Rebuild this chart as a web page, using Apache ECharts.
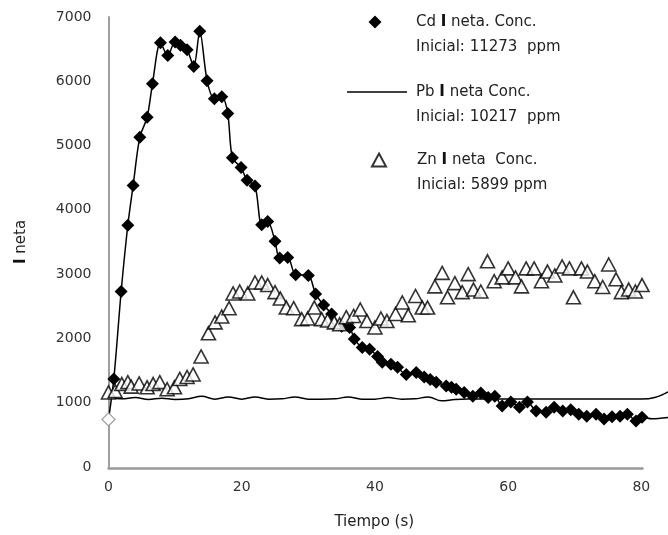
<!doctype html>
<html lang="es">
<head>
    <meta charset="UTF-8">
    <title>I neta vs Tiempo</title>
    <style>
        *{
            padding:0;
            margin:0;
        }
        body{
            background:#fff;
        }
        #main{
            width:668px;
            height:535px;
        }
    </style>
</head>
<body>
   <div id="main"></div>
<script src="https://cdn.jsdelivr.net/npm/echarts@6/dist/echarts.min.js"></script>
<script>
    // Cd (diamantes), tiempo en s y I neta
    var cdTime=[0,0.8,1.9,2.9,3.7,4.7,5.8,6.6,7.8,8.9,10.0,10.8,11.8,12.8,13.7,14.8,15.9,17.0,17.9,
        18.6,19.9,20.8,22.0,23.0,23.9,25.0,25.7,26.9,28.1,30.0,31.1,32.3,33.5,35.0,36.2,36.9,38.1,39.2,
        40.4,41.1,42.4,43.4,44.7,46.2,47.4,48.3,49.2,50.7,51.5,52.2,53.4,54.7,55.9,57.0,58.0,59.1,60.4,
        61.7,62.9,64.2,65.7,66.9,68.2,69.4,70.6,71.8,73.2,74.4,75.6,76.8,77.9,79.2,80.1];
    var cdValue=[740,1370,2730,3760,4380,5130,5440,5960,6600,6400,6610,6560,6490,6230,6780,6010,5730,5760,5500,
        4810,4660,4460,4370,3770,3820,3510,3250,3260,2990,2980,2690,2520,2380,2190,2170,1990,1860,1830,
        1720,1630,1600,1550,1440,1470,1400,1360,1320,1260,1240,1210,1160,1100,1150,1080,1100,950,1010,
        930,1010,870,850,930,870,890,820,790,820,745,780,790,820,715,775];
    // la curva de Cd sigue sin marcadores
    var cdTailTime=[81.6,84];
    var cdTailValue=[750,770];

    // Pb (solo línea)
    var pbTime=[0,2,4,6,8,10,12,14,16,18,20,22,24,26,28,30,32,34,36,38,40,42,44,46,48,50,52,54,56,58,
        60,62,64,66,68,70,72,74,76,78,80,82,84];
    var pbValue=[1100,1060,1080,1050,1070,1050,1060,1100,1055,1090,1055,1090,1055,1060,1090,1055,1055,1060,1090,1055,
        1055,1080,1055,1060,1090,1030,1050,1056,1056,1056,1056,1056,1056,1056,1056,1056,1056,1056,1056,1056,
        1056,1080,1170];

    // Zn (triángulos)
    var znTime=[0,1.0,2.0,2.9,3.4,4.6,5.8,6.7,7.7,8.8,9.9,10.7,11.8,12.7,13.9,15.0,16.0,17.0,18.1,18.7,19.7,
        20.9,22.0,23.0,23.9,25.0,25.8,26.7,27.8,29.0,29.9,30.9,32.0,32.9,33.9,34.7,35.7,36.8,37.8,38.8,40.0,
        40.9,41.8,43.1,44.1,45.0,46.1,47.1,47.9,49.0,50.1,50.9,52.0,53.1,54.0,54.8,55.9,56.9,57.9,59.1,60.0,
        61.1,62.0,62.7,63.9,65.0,65.9,67.0,68.1,69.2,69.8,71.0,71.9,73.0,74.2,75.1,76.2,77.0,78.1,79.1,80.1];
    var znValue=[1160,1180,1290,1320,1250,1300,1240,1290,1320,1210,1240,1370,1400,1440,1720,2080,2250,2340,2470,2700,2730,
        2700,2870,2870,2830,2720,2620,2480,2470,2300,2310,2480,2300,2280,2250,2220,2330,2350,2450,2270,2170,
        2310,2270,2380,2560,2360,2660,2480,2480,2810,3020,2640,2860,2720,3000,2760,2730,3200,2890,2950,3090,
        2950,2810,3090,3090,2890,3040,2980,3120,3090,2640,3090,3040,2890,2800,3150,2920,2720,2760,2730,2830];

    var legendLabels={
        Cd:['Cd {b|I} neta. Conc.','Inicial: 11273  ppm'],
        Pb:['Pb {b|I} neta Conc.','Inicial: 10217  ppm'],
        Zn:['Zn {b|I} neta  Conc.','Inicial: 5899 ppm']
    };
    var xTicks=[0,84,20];   // min, max (la curva sigue hasta 84), intervalo
    var xAxisEnd=80;        // la línea del eje llega a 80
    var yTicks=[0,7000,1000];

    var font='DejaVu Sans';
    var axisGray='#9e9e9e';

    var cdData=cdTime.map(function(t,i){
        if(i===0){
            return {value:[t,cdValue[i]],itemStyle:{color:'#fff',borderColor:'#9a9a9a',borderWidth:1.2}};
        }
        return [t,cdValue[i]];
    });
    cdTailTime.forEach(function(t,i){
        cdData.push({value:[t,cdTailValue[i]],symbol:'none'});
    });
    var pbData=pbTime.map(function(t,i){return [t,pbValue[i]];});
    var znData=znTime.map(function(t,i){return [t,znValue[i]];});

    // una leyenda por serie: icono a la altura de la primera línea de texto
    function makeLegend(name,icon,iconX,iconY,w,h){
        return {
            data:[{name:name,icon:icon}],
            left:iconX-w/2,
            top:iconY-37.5,
            padding:0,
            itemWidth:w,
            itemHeight:h,
            selectedMode:false,
            formatter:function(n){return legendLabels[n].join('\n');},
            textStyle:{
                fontFamily:font,
                fontSize:15,
                color:'#222',
                lineHeight:25,
                padding:[25,0,0,416-(iconX+w/2)-5],
                rich:{b:{fontFamily:font,fontSize:15,fontWeight:'bold',color:'#111',lineHeight:25}}
            }
        };
    }

    var plotLeft=108.5, plotTop=17, plotBottom=67;
    var pxPerSec=(642.5-plotLeft)/xAxisEnd;

    var myChart=echarts.init(document.getElementById('main'),null,{renderer:'canvas'});
    var option={
        animation:false,
        backgroundColor:'#fff',
        grid:[
            {left:plotLeft,right:668-plotLeft-pxPerSec*xTicks[1],top:plotTop,bottom:plotBottom},
            // segundo grid solo para la línea del eje X (0 a 80)
            {left:plotLeft,right:668-plotLeft-pxPerSec*xAxisEnd,top:plotTop,bottom:plotBottom}
        ],
        legend:[
            makeLegend('Cd','diamond',375,22,13,13),
            makeLegend('Pb','rect',377,92,60,1.5),
            makeLegend('Zn','triangle',378,160,14,13)
        ],
        xAxis:[{
            type:'value',
            gridIndex:0,
            min:xTicks[0],
            max:xTicks[1],
            interval:xTicks[2],
            name:'Tiempo (s)',
            nameLocation:'middle',
            nameGap:48,
            nameTextStyle:{fontFamily:font,fontSize:15,color:'#222',padding:[0,0,0,-28]},
            axisLine:{show:false},
            axisTick:{show:false},
            splitLine:{show:false},
            axisLabel:{fontFamily:font,fontSize:14,color:'#333',margin:13,showMaxLabel:false}
        },{
            type:'value',
            gridIndex:1,
            position:'bottom',
            min:xTicks[0],
            max:xAxisEnd,
            interval:xTicks[2],
            axisLine:{show:true,onZero:false,lineStyle:{color:'#999',width:2.5}},
            axisTick:{show:false},
            axisLabel:{show:false},
            splitLine:{show:false},
            z:10
        }],
        yAxis:[{
            type:'value',
            gridIndex:0,
            min:yTicks[0],
            max:yTicks[1],
            interval:yTicks[2],
            name:'{b|I} neta',
            nameLocation:'middle',
            nameGap:80,
            nameRotate:90,
            nameTextStyle:{fontFamily:font,fontSize:15,color:'#222',
                rich:{b:{fontFamily:font,fontSize:15,fontWeight:'bold',color:'#111'}}},
            axisLine:{show:true,lineStyle:{color:axisGray,width:2}},
            axisTick:{show:false},
            splitLine:{show:false},
            axisLabel:{fontFamily:font,fontSize:14,color:'#333',margin:17,
                formatter:function(v){return String(v);}}
        },{
            type:'value',
            gridIndex:1,
            min:yTicks[0],
            max:yTicks[1],
            axisLine:{show:false},
            axisTick:{show:false},
            axisLabel:{show:false},
            splitLine:{show:false}
        }],
        series:[
            {
                name:'Cd',
                type:'line',
                data:cdData,
                smooth:0.3,
                symbol:'diamond',
                symbolSize:13,
                showSymbol:true,
                showAllSymbol:true,
                lineStyle:{color:'#000',width:1.5},
                itemStyle:{color:'#000'},
                z:2
            },
            {
                name:'Pb',
                type:'line',
                data:pbData,
                smooth:0.4,
                symbol:'none',
                lineStyle:{color:'#000',width:1.5},
                itemStyle:{color:'#000'},
                z:3
            },
            {
                name:'Zn',
                type:'scatter',
                data:znData,
                symbol:'triangle',
                symbolSize:[14,13],
                itemStyle:{color:'#fff',borderColor:'#000',borderWidth:1.6},
                z:4
            }
        ]
    };
    myChart.setOption(option);
</script>
</body>
</html>
